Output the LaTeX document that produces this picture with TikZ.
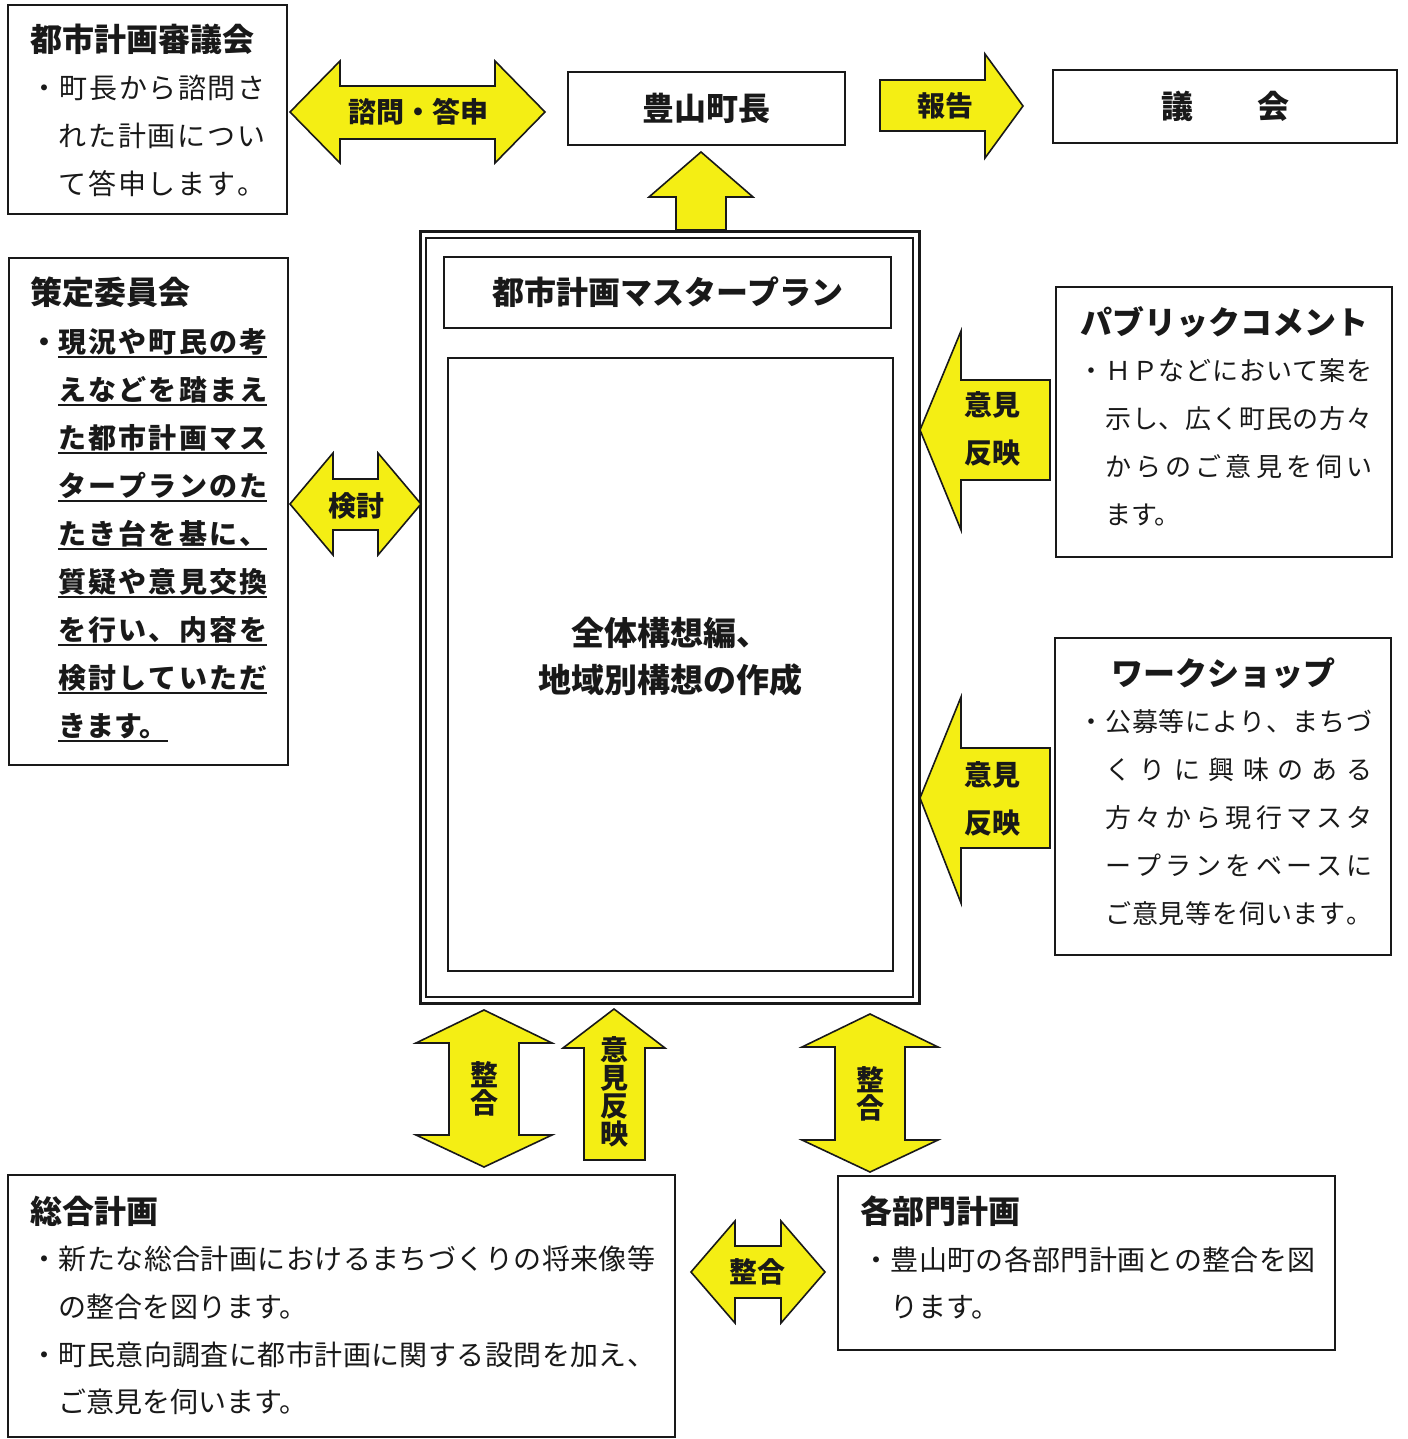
\documentclass[tikz,border=0pt]{standalone}
\usepackage{fontspec}
\setmainfont{Noto Sans CJK JP}
\definecolor{ay}{RGB}{244,238,20}
\definecolor{ink}{RGB}{25,25,25}
\newcommand\jspread[2]{\hbox to #1{\jsploop#2\relax}}
\def\jsploop#1#2{#1\ifx\relax#2\else\hfil\expandafter\jsploop\expandafter#2\fi}
\newcommand\ulx[1]{{\setbox0=\hbox{#1}\rlap{\rule[-3pt]{\wd0}{1pt}}\box0}}
\tikzset{
  box/.style={draw=ink, line width=1pt, fill=white, inner sep=0},
  arr/.style={draw=ink, line width=0.8pt, fill=ay, line join=miter},
  hd/.style={font=\fontsize{16}{16}\selectfont\bfseries, inner sep=0, text=ink},
  bd/.style={font=\fontsize{14}{14}\selectfont, inner sep=0, anchor=base west, text=ink},
  bdb/.style={font=\fontsize{14}{14}\selectfont\bfseries, inner sep=0, anchor=base west, text=ink},
  bds/.style={font=\fontsize{13}{13}\selectfont, inner sep=0, anchor=base west, text=ink},
  lab/.style={font=\fontsize{14}{14}\selectfont\bfseries, inner sep=0, align=center, text=ink},
}
\begin{document}
\begin{tikzpicture}[x=0.5pt,y=-0.5pt]
\fill[white] (0,0) rectangle (1407,1439);
\useasboundingbox (0,0) rectangle (1407,1439);

% ---------- boxes ----------
\node[box, minimum width=139.5pt, minimum height=104.5pt] (shingi) at (147.5,109.5) {};
\node[box, minimum width=139.5pt, minimum height=253.5pt] (sakutei) at (148.5,511.5) {};
\node[box, minimum width=138.5pt, minimum height=36.5pt] (chocho) at (706.5,108.5) {};
\node[box, minimum width=172pt, minimum height=36.5pt] (gikai) at (1225,106.5) {};
\node[box, minimum width=168pt, minimum height=135pt] (pub) at (1224,422) {};
\node[box, minimum width=168pt, minimum height=158.5pt] (ws) at (1223,796.5) {};
\node[box, minimum width=333.5pt, minimum height=131pt] (sogo) at (341.5,1306) {};
\node[box, minimum width=248.5pt, minimum height=87pt] (bumon) at (1086.5,1263) {};

% master plan double frame
\node[box, line width=1.5pt, minimum width=249.5pt, minimum height=385.5pt] (mpout) at (669.5,617.5) {};
\node[draw=ink, line width=0.8pt, inner sep=0, minimum width=243.5pt, minimum height=379.5pt] (mpin) at (669.5,617.5) {};
\node[box, minimum width=223.5pt, minimum height=35.5pt] (mptitle) at (667.5,292.5) {};
\node[box, minimum width=222.5pt, minimum height=306.5pt] (mpbody) at (670.5,664.5) {};

% ---------- block arrows ----------
\draw[arr] (290,112) -- (340,61) -- (340,86) -- (495,86) -- (495,61) -- (545,112) -- (495,163) -- (495,139) -- (340,139) -- (340,163) -- cycle;
\draw[arr] (880,80) -- (985,80) -- (985,54) -- (1023,106) -- (985,158) -- (985,131) -- (880,131) -- cycle;
\draw[arr] (701,152) -- (753,197) -- (726,197) -- (726,230) -- (676,230) -- (676,197) -- (649,197) -- cycle;
\draw[arr] (290,504) -- (333,453) -- (333,479) -- (378,479) -- (378,453) -- (421,504) -- (378,555) -- (378,530) -- (333,530) -- (333,555) -- cycle;
\draw[arr] (920,430) -- (961,331) -- (961,380) -- (1050,380) -- (1050,480) -- (961,480) -- (961,530) -- cycle;
\draw[arr] (920,798) -- (961,697) -- (961,748) -- (1050,748) -- (1050,848) -- (961,848) -- (961,903) -- cycle;
\draw[arr] (484,1010) -- (552,1043) -- (519,1043) -- (519,1135) -- (552,1135) -- (484,1167) -- (416,1135) -- (449,1135) -- (449,1043) -- (416,1043) -- cycle;
\draw[arr] (614,1009) -- (665,1048) -- (645,1048) -- (645,1160) -- (584,1160) -- (584,1048) -- (563,1048) -- cycle;
\draw[arr] (870,1014) -- (938,1047) -- (905,1047) -- (905,1140) -- (938,1140) -- (870,1172) -- (802,1140) -- (835,1140) -- (835,1047) -- (802,1047) -- cycle;
\draw[arr] (691,1272) -- (735,1221) -- (735,1246) -- (781,1246) -- (781,1221) -- (825,1272) -- (781,1323) -- (781,1298) -- (735,1298) -- (735,1323) -- cycle;

% ---------- arrow labels ----------
\node[lab] (l1) at (418,112) {諮問・答申};
\node[lab] (l2) at (945,106) {報告};
\node[lab] (l3) at (356,506) {検討};
\node[lab, font=\fontsize{14}{24}\selectfont\bfseries] (l4) at (992,429) {意見\\反映};
\node[lab, font=\fontsize{14}{24}\selectfont\bfseries] (l5) at (992,799) {意見\\反映};
\node[lab] (l6) at (484,1089) {整\\合};
\node[lab] (l7) at (614,1092) {意\\見\\反\\映};
\node[lab] (l8) at (870,1094) {整\\合};
\node[lab] (l9) at (757,1272) {整合};

% ---------- box texts ----------
\node[hd] (tcho) at (706,108) {豊山町長};
\node[hd] (tgik) at (1225,106) {議　　会};
\node[hd] (tmp) at (668,292) {都市計画マスタープラン};
\node[font=\fontsize{16.5}{23.5}\selectfont\bfseries, align=center, inner sep=0, text=ink] (tmpb) at (670,657) {全体構想編、\\地域別構想の作成};

% 都市計画審議会
\node[hd, anchor=base west] (h1) at (30,52) {都市計画審議会};
\node[bd] (s1) at (30,99) {\jspread{117.5pt}{・町長から諮問さ}};
\node[bd] (s2) at (58,147) {\jspread{103.5pt}{れた計画につい}};
\node[bd] (s3) at (58,195) {\jspread{103.5pt}{て答申します。}};

% 策定委員会
\node[hd, anchor=base west] (h2) at (30,304) {策定委員会};
\node[bdb] (k1) at (30,352) {・\ulx{\jspread{104.5pt}{現況や町民の考}}};
\node[bdb] (k2) at (58,400) {\ulx{\jspread{104.5pt}{えなどを踏まえ}}};
\node[bdb] (k3) at (58,448) {\ulx{\jspread{104.5pt}{た都市計画マス}}};
\node[bdb] (k4) at (58,496) {\ulx{\jspread{104.5pt}{タープランのた}}};
\node[bdb] (k5) at (58,544) {\ulx{\jspread{104.5pt}{たき台を基に、}}};
\node[bdb] (k6) at (58,592) {\ulx{\jspread{104.5pt}{質疑や意見交換}}};
\node[bdb] (k7) at (58,640) {\ulx{\jspread{104.5pt}{を行い、内容を}}};
\node[bdb] (k8) at (58,688) {\ulx{\jspread{104.5pt}{検討していただ}}};
\node[bdb] (k9) at (58,736) {\ulx{きます。}};

% パブリックコメント
\node[hd, anchor=base west] (h3) at (1080,334) {パブリックコメント};
\node[bds] (p1) at (1078,380) {\jspread{147pt}{・ＨＰなどにおいて案を}};
\node[bds] (p2) at (1105,428) {\jspread{133.5pt}{示し、広く町民の方々}};
\node[bds] (p3) at (1105,476) {\jspread{133.5pt}{からのご意見を伺い}};
\node[bds] (p4) at (1105,524) {ます。};

% ワークショップ
\node[hd, anchor=base] (h4) at (1223,685) {ワークショップ};
\node[bds] (w1) at (1078,731) {\jspread{147pt}{・公募等により、まちづ}};
\node[bds] (w2) at (1105,779) {\jspread{133.5pt}{くりに興味のある}};
\node[bds] (w3) at (1105,827) {\jspread{133.5pt}{方々から現行マスタ}};
\node[bds] (w4) at (1105,875) {\jspread{133.5pt}{ープランをベースに}};
\node[bds] (w5) at (1105,923) {\jspread{133.5pt}{ご意見等を伺います。}};

% 総合計画
\node[hd, anchor=base west] (h5) at (30,1223) {総合計画};
\node[bd] (g1) at (30,1269) {\jspread{312.5pt}{・新たな総合計画におけるまちづくりの将来像等}};
\node[bd] (g2) at (58,1317) {の整合を図ります。};
\node[bd] (g3) at (30,1365) {\jspread{312.5pt}{・町民意向調査に都市計画に関する設問を加え、}};
\node[bd] (g4) at (58,1412) {ご意見を伺います。};

% 各部門計画
\node[hd, anchor=base west] (h6) at (860,1223) {各部門計画};
\node[bd] (b1) at (862,1270) {\jspread{226.5pt}{・豊山町の各部門計画との整合を図}};
\node[bd] (b2) at (890,1317) {ります。};
\end{tikzpicture}
\end{document}
